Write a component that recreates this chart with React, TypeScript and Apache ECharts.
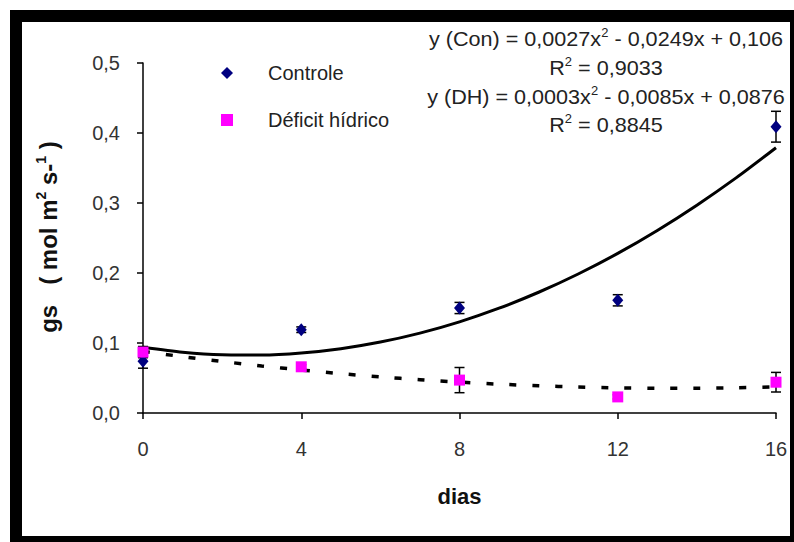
import React, { useEffect, useRef } from "react";
import * as echarts from "echarts";

// ---- data ----
const days = [0, 4, 8, 12, 16];
const conMean = [0.074, 0.119, 0.150, 0.161, 0.409];
const conErr = [0.010, 0.004, 0.008, 0.008, 0.022];
const dhMean = [0.087, 0.066, 0.047, 0.023, 0.044];
const dhErr = [0.008, 0.003, 0.018, 0.003, 0.014];

// trend curves as drawn in the picture (values read at each day)
const trendX = [0, 1, 2, 3, 4, 5, 6, 7, 8, 9, 10, 11, 12, 13, 14, 15, 16];
const conTrend = [0.094, 0.0869, 0.0831, 0.0827, 0.0856, 0.0918, 0.1013, 0.1141, 0.1302, 0.1497, 0.1725, 0.1986, 0.228, 0.2608, 0.2969, 0.3362, 0.379];
const dhTrend = [0.088, 0.0805, 0.0736, 0.0672, 0.0614, 0.0562, 0.0516, 0.0476, 0.0441, 0.0412, 0.0389, 0.0372, 0.036, 0.0354, 0.0354, 0.036, 0.0372];

const yTicks = [0, 0.1, 0.2, 0.3, 0.4, 0.5];
const xTicks = [0, 4, 8, 12, 16];

const seriesNames = ["Controle", "Déficit hídrico"];
const eqLines = [
  ["y (Con) = 0,0027x", "2", " - 0,0249x + 0,106"],
  ["R", "2", " = 0,9033"],
  ["y (DH) = 0,0003x", "2", " - 0,0085x + 0,0876"],
  ["R", "2", " = 0,8845"],
];
const xName = "dias";
const yNameParts = ["gs   ( mol m", "2", " s-", "1", " )"];

const FONT = "'Liberation Sans', Arial, Helvetica, sans-serif";

function errorBarItem(params: any, api: any) {
  const x = api.value(0);
  const lo = api.coord([x, api.value(1)]);
  const hi = api.coord([x, api.value(2)]);
  const w = 5;
  const st = { stroke: "#000", lineWidth: 1.5 };
  return {
    type: "group",
    children: [
      { type: "line", shape: { x1: lo[0], y1: lo[1], x2: hi[0], y2: hi[1] }, style: st },
      { type: "line", shape: { x1: lo[0] - w, y1: lo[1], x2: lo[0] + w, y2: lo[1] }, style: st },
      { type: "line", shape: { x1: hi[0] - w, y1: hi[1], x2: hi[0] + w, y2: hi[1] }, style: st },
    ],
  };
}

export default function App() {
  const ref = useRef<HTMLDivElement>(null);
  useEffect(() => {
    document.body.style.margin = "0";
    const chart = echarts.init(ref.current!, null, { renderer: "svg" });
    const eqY = [38, 67, 96, 124];
    const option: any = {
      animation: false,
      backgroundColor: "#fff",
      grid: { left: 143, right: 18, top: 63, bottom: 129, containLabel: false },
      legend: {
        orient: "vertical",
        left: 216,
        top: 58,
        itemGap: 27,
        itemWidth: 12,
        itemHeight: 12,
        data: [
          { name: seriesNames[0], icon: "diamond" },
          { name: seriesNames[1], icon: "rect" },
        ],
        textStyle: { fontSize: 20, fontFamily: FONT, color: "#222", padding: [0, 0, 0, 30] },
      },
      xAxis: {
        type: "value",
        min: 0,
        max: 16,
        interval: 4,
        name: xName,
        nameLocation: "middle",
        nameGap: 72,
        nameTextStyle: { fontSize: 22, fontWeight: "bold", fontFamily: FONT, color: "#111" },
        axisLine: { lineStyle: { color: "#000", width: 1.5 } },
        axisTick: { show: true, length: 6, lineStyle: { color: "#000", width: 1.5 } },
        axisLabel: {
          margin: 26,
          fontSize: 20,
          fontFamily: FONT,
          color: "#333",
          formatter: (v: number) => (xTicks.indexOf(v) >= 0 ? String(v) : ""),
        },
        splitLine: { show: false },
      },
      yAxis: {
        type: "value",
        min: 0,
        max: 0.5,
        interval: 0.1,
        axisLine: { show: true, lineStyle: { color: "#000", width: 1.5 } },
        axisTick: { show: true, length: 6, lineStyle: { color: "#000", width: 1.5 } },
        axisLabel: {
          margin: 23,
          fontSize: 20,
          fontFamily: FONT,
          color: "#333",
          formatter: (v: number) => {
            const t = yTicks.find((k) => Math.abs(k - v) < 1e-9);
            return t === undefined ? "" : t.toFixed(1).replace(".", ",");
          },
        },
        splitLine: { show: false },
      },
      graphic: {
        elements: [
          { type: "rect", z: -10, shape: { x: 10, y: 10, width: 784, height: 532 }, style: { fill: "#000" } },
          { type: "rect", z: -9, shape: { x: 22, y: 22, width: 768, height: 514 }, style: { fill: "#fff" } },
          ...eqLines.map((parts, i) => ({
            type: "text",
            z: 10,
            x: 606,
            y: eqY[i],
            scaleX: 1.08,
            style: {
              text: `{n|${parts[0]}}{s|${parts[1]}}{n|${parts[2]}}`,
              rich: {
                n: { fontSize: 20, fontFamily: FONT, fill: "#222", verticalAlign: "bottom", lineHeight: 22 },
                s: { fontSize: 12, fontFamily: FONT, fill: "#222", verticalAlign: "top", lineHeight: 22 },
              },
              align: "center",
              verticalAlign: "middle",
            },
          })),
          {
            type: "text",
            z: 10,
            x: 47,
            y: 237,
            rotation: Math.PI / 2,
            style: {
              text: `{b|${yNameParts[0]}}{s|${yNameParts[1]}}{b|${yNameParts[2]}}{s|${yNameParts[3]}}{b|${yNameParts[4]}}`,
              rich: {
                b: { fontSize: 24, fontWeight: "bold", fontFamily: FONT, fill: "#111", verticalAlign: "bottom", lineHeight: 26 },
                s: { fontSize: 14, fontWeight: "bold", fontFamily: FONT, fill: "#111", verticalAlign: "top", lineHeight: 26 },
              },
              align: "center",
              verticalAlign: "middle",
            },
          },
        ],
      },
      series: [
        {
          name: "trend-con",
          type: "line",
          data: trendX.map((x, i) => [x, conTrend[i]]),
          smooth: 0.25,
          showSymbol: false,
          symbol: "none",
          lineStyle: { color: "#000", width: 3 },
          z: 3,
          silent: true,
        },
        {
          name: "trend-dh",
          type: "line",
          data: trendX.map((x, i) => [x, dhTrend[i]]),
          smooth: 0.25,
          showSymbol: false,
          symbol: "none",
          lineStyle: { color: "#000", width: 3.5, type: [7, 16] },
          z: 3,
          silent: true,
        },
        {
          name: "err-con",
          type: "custom",
          renderItem: errorBarItem,
          data: days.map((x, i) => [x, conMean[i] - conErr[i], conMean[i] + conErr[i]]),
          z: 4,
          silent: true,
        },
        {
          name: "err-dh",
          type: "custom",
          renderItem: errorBarItem,
          data: days.map((x, i) => [x, dhMean[i] - dhErr[i], dhMean[i] + dhErr[i]]),
          z: 4,
          silent: true,
        },
        {
          name: seriesNames[0],
          type: "scatter",
          symbol: "diamond",
          symbolSize: [11, 13],
          itemStyle: { color: "#000080", opacity: 1 },
          data: days.map((x, i) => [x, conMean[i]]),
          z: 5,
        },
        {
          name: seriesNames[1],
          type: "scatter",
          symbol: "rect",
          symbolSize: 11,
          itemStyle: { color: "#ff00ff", opacity: 1 },
          data: days.map((x, i) => [x, dhMean[i]]),
          z: 5,
        },
      ],
    };
    chart.setOption(option);
    return () => chart.dispose();
  }, []);
  return <div ref={ref} style={{ width: 794, height: 542 }} />;
}
